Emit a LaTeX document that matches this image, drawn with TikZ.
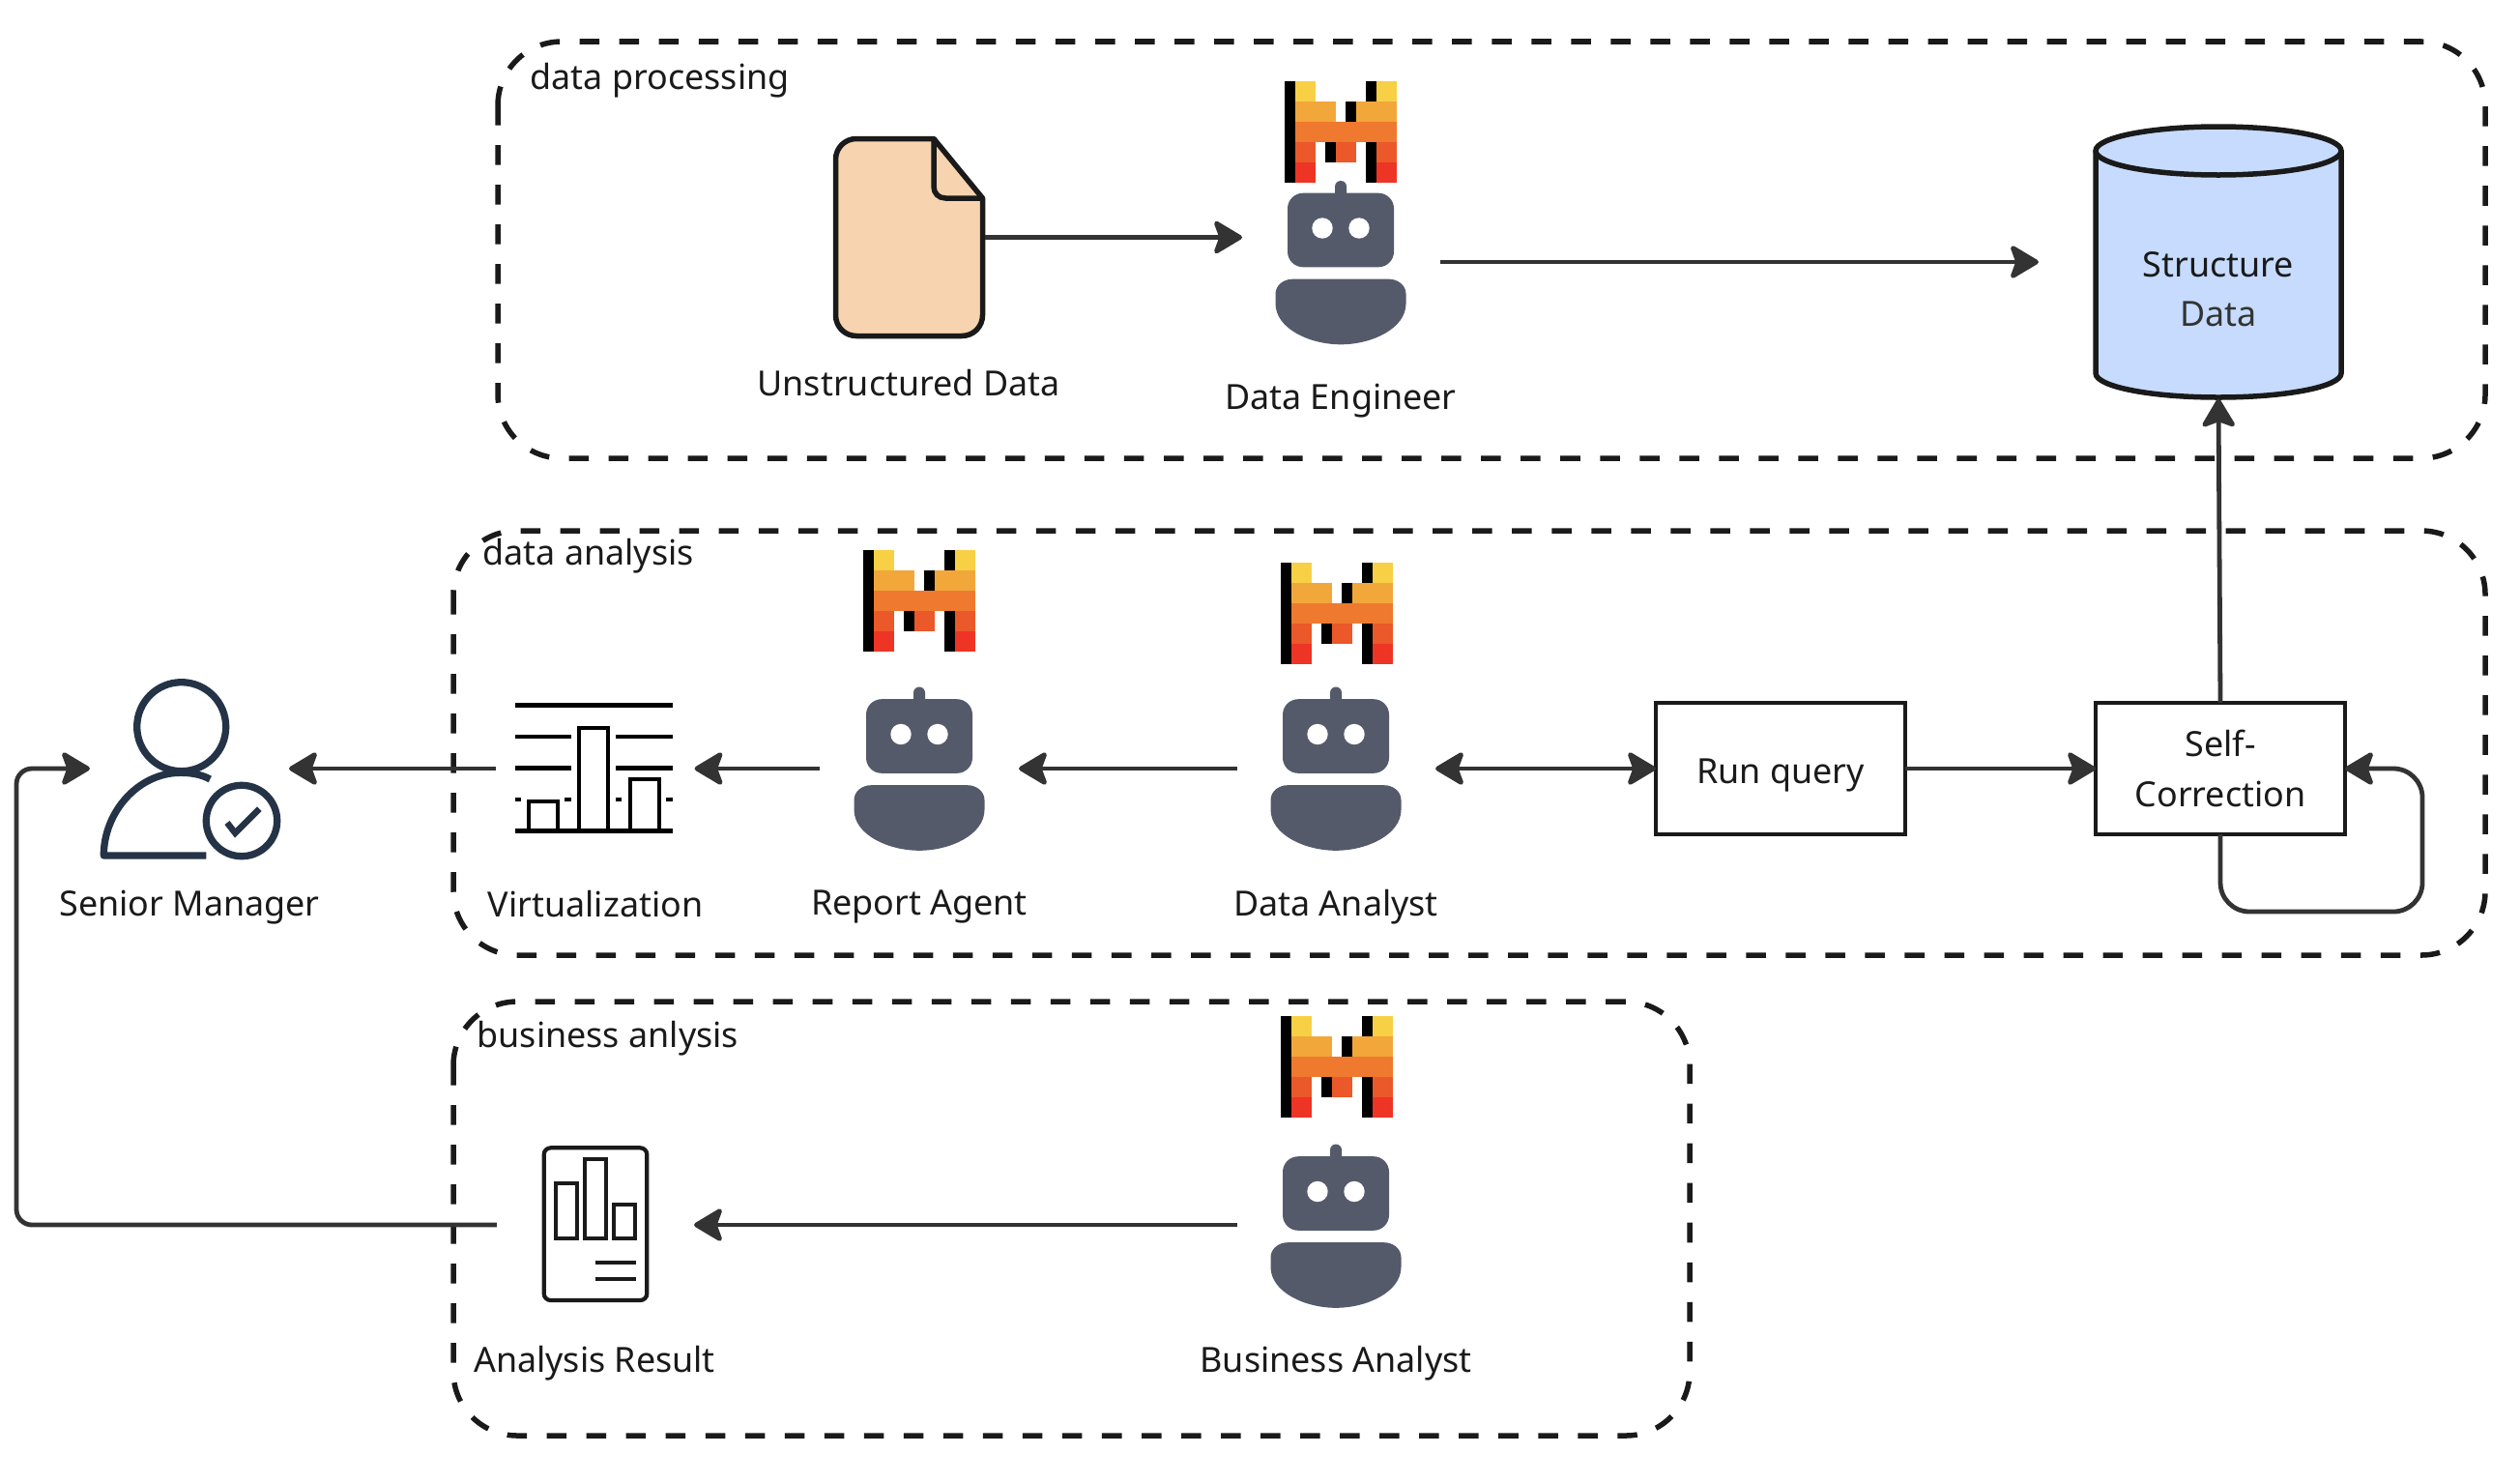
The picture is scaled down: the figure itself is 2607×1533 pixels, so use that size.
\documentclass[tikz,border=0pt]{standalone}
\usepackage{fontspec}
\setmainfont{Noto Sans}
\usetikzlibrary{arrows.meta}
\definecolor{ink}{HTML}{1A1A1A}
\definecolor{wire}{HTML}{333333}
\definecolor{botgrey}{HTML}{555A6B}
\definecolor{navy}{HTML}{253347}
\definecolor{paper}{HTML}{F7D4AF}
\definecolor{drum}{HTML}{C6DBFD}
\definecolor{ma}{HTML}{F7D046}
\definecolor{mb}{HTML}{F2A73B}
\definecolor{mc}{HTML}{EE792F}
\definecolor{md}{HTML}{EB5829}
\definecolor{me}{HTML}{EE3425}
\tikzset{
  group/.style={ink,line width=.055cm,dash pattern=on .205cm off .205cm,rounded corners=.66cm},
  spot/.style={inner sep=0,outer sep=0,minimum height=.2cm},
  box/.style={draw=ink,line width=.047cm,inner sep=0,outer sep=0,minimum width=2.58cm,minimum height=1.36cm,align=center,txt},
  txt/.style={font=\fontsize{10.2}{14.6}\selectfont,text=ink},
  wired/.style={wire,line width=.048cm,{Stealth[length=.33cm,width=.39cm,inset=.07cm,round]}-{Stealth[length=.33cm,width=.39cm,inset=.07cm,round]}},
  link/.style={wire,line width=.048cm,-{Stealth[length=.33cm,width=.39cm,inset=.07cm,round]}}
}
\newcommand{\mlogo}[2]{
  \begin{scope}[shift={(#1,#2)}]
  \foreach \shade/\xa/\xb/\row in {black/0/1/0,black/0/1/1,black/0/1/2,black/0/1/3,black/0/1/4,
      ma/1/3/0,black/8/9/0,ma/9/11/0,
      mb/1/5/1,black/6/7/1,mb/7/11/1,
      mc/1/11/2,
      md/1/3/3,black/4/5/3,md/5/7/3,black/8/9/3,md/9/11/3,
      me/1/3/4,black/8/9/4,me/9/11/4}
    \fill[\shade] (\xa*10.5,\row*21) rectangle (\xb*10.5,\row*21+21);
  \end{scope}
}
\newcommand{\mbot}[2]{
  \begin{scope}[shift={(#1,#2)}]
  \fill[botgrey,rounded corners=.06cm] (-6,-49) rectangle (6,-30);
  \fill[botgrey,rounded corners=.16cm] (-55,-36.3) rectangle (55,40.3);
  \fill[white] (-19,0) circle (10.7);
  \fill[white] (19,0) circle (10.7);
  \fill[botgrey] (-67.5,78) -- (-67.5,68) .. controls (-67.5,59) and (-59,52.7) .. (-50,52.7)
    -- (50,52.7) .. controls (59,52.7) and (67.5,59) .. (67.5,68) -- (67.5,78)
    .. controls (67.5,104) and (32,120.3) .. (0,120.3) .. controls (-32,120.3) and (-67.5,104) .. (-67.5,78) -- cycle;
  \end{scope}
}
\begin{document}
\begin{tikzpicture}[x=.01cm,y=-.01cm]
\useasboundingbox (0,0) rectangle (2607,1533);
\draw[group] (515,43) rectangle (2571,474);
\draw[group] (469,549) rectangle (2571,988);
\draw[group] (469,1036) rectangle (1748,1485);
\node[txt,anchor=west,inner sep=0] (procname) at (548,83) {data processing};
\node[txt,anchor=west,inner sep=0] (dataname) at (499,575) {data analysis};
\node[txt,anchor=west,inner sep=0] (bizname) at (493,1074) {business anlysis};

\draw[ink,line width=.055cm,fill=paper,line join=round] (966,143.5) -- (886,143.5) .. controls (874,143.5) and (864.5,153) .. (864.5,165)
  -- (864.5,326) .. controls (864.5,338) and (874,347.5) .. (886,347.5) -- (995,347.5) .. controls (1007,347.5) and (1016.5,338) .. (1016.5,326)
  -- (1016.5,205) -- cycle;
\draw[ink,line width=.055cm,line join=round] (966,143.5) -- (966,193) .. controls (966,200) and (971,205) .. (978,205) -- (1016.5,205);
\node[spot,minimum width=1.57cm,minimum height=2.09cm] (doc) at (940.5,245.5) {};

\mlogo{1329}{84}
\mbot{1387}{236}
\node[spot,minimum width=2.05cm] (engineer) at (1387.5,271) {};

\draw[ink,line width=.055cm,fill=drum] (2168,156) -- (2168,386) .. controls (2168,400) and (2225,411) .. (2295,411)
  .. controls (2365,411) and (2422,400) .. (2422,386) -- (2422,156);
\draw[ink,line width=.055cm,fill=drum] (2295,156) ellipse [x radius=127,y radius=25];
\node[spot,txt,align=center,minimum width=3.72cm,minimum height=2.26cm] (store) at (2295,299.5) {Structure\\\textcolor{wire}{Data}};

\mlogo{893}{569}
\mbot{951}{759.5}
\node[spot,minimum width=2.06cm] (report) at (951,795) {};
\mlogo{1325}{582}
\mbot{1382}{759.5}
\node[spot,minimum width=2.05cm] (analyst) at (1382.5,795) {};
\mlogo{1325}{1051}
\mbot{1382}{1232.5}
\node[spot,minimum width=2.05cm] (business) at (1382.5,1267) {};

\draw[navy,line width=.073cm] (187.7,751.7) circle (46);
\draw[navy,line width=.073cm,line join=round] (217.3,806) .. controls (208,801) and (198,799.3) .. (186.7,799.3)
  .. controls (143,799.3) and (107.3,840) .. (107.3,885) -- (213.3,885);
\draw[navy,line width=.073cm] (250,849) circle (36.7);
\draw[navy,line width=.065cm] (235,851) -- (243.3,861.7) -- (268.3,836.7);
\node[spot,minimum width=2.06cm] (manager) at (196,795) {};

\foreach \ya/\xa/\xb in {729.3/533.3/696,762/533.3/591,762/637/696,794.7/533.3/591,794.7/637/696,827/533.3/539,827/584/591,827/637/643,827/689/696,859.7/533.3/696}
  \draw[black,line width=.045cm] (\xa,\ya) -- (\xb,\ya);
\foreach \xa/\ya in {547/829.3,599.3/753.3,652/806}
  \draw[black,line width=.04cm] (\xa,859.7) -- (\xa,\ya) -- (\xa+30,\ya) -- (\xa+30,859.7);
\node[spot,minimum width=2.05cm] (chart) at (616,795) {};

\draw[ink,line width=.042cm,rounded corners=.07cm] (562.7,1187.3) rectangle (669.3,1345);
\foreach \xa/\ya in {575/1224.3,605/1199,635/1246}
  \draw[ink,line width=.04cm] (\xa,\ya) rectangle (\xa+21.7,1280.7);
\draw[ink,line width=.04cm] (615.7,1306) -- (658,1306);
\draw[ink,line width=.04cm] (615.7,1323.3) -- (658,1323.3);
\node[spot,minimum width=2.04cm] (result) at (616,1267) {};

\node[box,text height=.4cm,text depth=.1cm] (runq) at (1842,795) {Run query};
\node[box] (selfc) at (2297,795) {Self-\\Correction};
\coordinate (loop) at (2506,943);
\coordinate (rail) at (17,1267);

\draw[link] (doc.east) -- (doc.east -| engineer.west);
\draw[link] (engineer.east) -- (store.west |- engineer.east);
\draw[link] (selfc.north) -- (store.south);
\draw[link] (chart.west) -- (manager.east);
\draw[link] (report.west) -- (chart.east);
\draw[link] (analyst.west) -- (report.east);
\draw[wired] (analyst.east) -- (runq.west);
\draw[link] (runq.east) -- (selfc.west);
\draw[link,rounded corners=.3cm] (selfc.south) |- (loop) |- (selfc.east);
\draw[link,rounded corners=.16cm] (result.west) -- (rail) |- (manager.west);
\draw[link] (business.west) -- (result.east);

\foreach \nm/\xa/\ya/\txt in {lbldoc/940/396/Unstructured Data,lbleng/1387/415/Data Engineer,lblman/196/939/Senior Manager,lblchart/616/935/Virtualization,lblrep/951/938/Report Agent,lblana/1382/938/Data Analyst,lblres/615/1410/Analysis Result,lblbiz/1382/1410/Business Analyst}
  \node[txt,inner sep=0] (\nm) at (\xa,\ya) {\txt};
\end{tikzpicture}
\end{document}
